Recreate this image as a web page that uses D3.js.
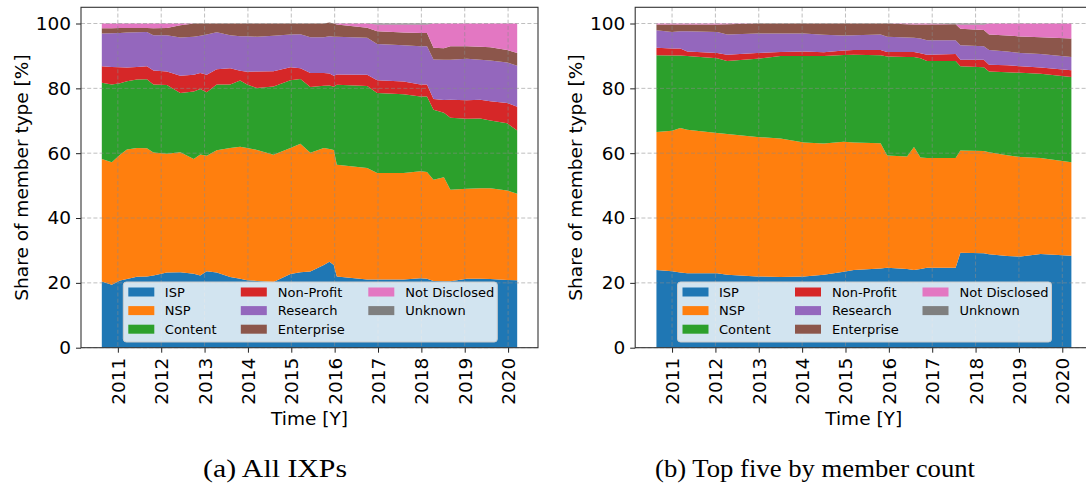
<!DOCTYPE html>
<html><head><meta charset="utf-8">
<script src="https://cdn.jsdelivr.net/npm/d3@7"></script>
<style>
body{margin:0;background:#fff}
svg{display:block}
text{font-family:"DejaVu Sans",sans-serif;fill:#000}
</style>
</head><body>
<svg id="c" width="1086" height="486"></svg>
<script>
// ---------- shared ----------
const seriesNames  = ["ISP","NSP","Content","Non-Profit","Research","Enterprise","Not Disclosed","Unknown"];
const seriesColors = ["#1f77b4","#ff7f0e","#2ca02c","#d62728","#9467bd","#8c564b","#e377c2","#7f7f7f"];
const yearTicks = [2011,2012,2013,2014,2015,2016,2017,2018,2019,2020];
const shareTicks = [0,20,40,60,80,100];
const xLabel = "Time [Y]";
const yLabel = "Share of member type [%]";
const captions = ["(a) All IXPs","(b) Top five by member count"];

// ---------- (a) All IXPs ----------
const aTime = [2010.63,2010.86,2011.05,2011.21,2011.44,2011.67,2011.82,2012.13,2012.44,2012.75,2012.90,2013.05,2013.28,2013.59,2013.82,2013.98,2014.21,2014.59,2014.98,2015.21,2015.44,2015.75,2015.88,2015.98,2016.05,2016.75,2016.98,2017.59,2017.98,2018.13,2018.28,2018.52,2018.67,2019.05,2019.36,2019.59,2019.98,2020.21];
const aISP = [20.4,19.4,20.7,21.2,21.9,22.0,22.3,23.2,23.3,22.8,22.3,23.6,23.2,21.8,21.3,20.8,20.6,20.3,22.7,23.3,23.5,25.5,26.5,25.5,22.0,21.0,21.0,21.0,21.4,21.3,20.6,20.5,20.5,21.3,21.3,21.2,20.9,20.8];
const aNSP = [37.8,37.8,38.8,39.9,39.7,39.5,37.9,36.6,37.0,35.4,37.3,35.6,37.7,39.8,40.7,40.8,40.4,39.2,38.9,39.6,36.6,36.1,34.8,35.5,34.4,34.4,32.9,32.9,33.0,32.9,31.2,32.1,28.2,27.7,27.9,28.0,27.6,26.7];
const aContent = [23.5,24.0,22.1,21.1,21.1,21.3,21.0,21.2,18.3,20.8,20.2,19.6,20.3,19.6,20.4,19.6,19.1,21.1,20.9,20.0,20.3,19.2,19.6,19.5,24.7,25.3,24.7,24.3,23.1,23.3,21.6,19.9,22.2,21.6,21.5,20.9,20.7,19.5];
const aNonProfit = [5.1,5.4,4.9,4.2,3.9,4.0,4.3,4.2,5.3,5.2,4.9,5.4,4.7,5.0,3.0,3.9,5.1,4.7,4.0,3.3,4.3,3.9,3.7,3.4,3.2,3.5,3.9,3.9,3.7,3.7,3.3,3.9,5.6,5.7,5.8,5.9,6.3,7.3];
const aResearch = [10.1,10.4,10.6,10.8,10.7,10.6,10.9,11.2,11.8,11.7,11.5,12.4,11.4,10.2,10.7,11.0,10.7,10.9,10.1,10.5,11.1,11.1,11.5,12.0,11.6,11.4,11.2,11.2,11.8,11.8,12.2,12.4,12.3,12.8,12.3,12.6,12.5,12.7];
const aEnterprise = [1.6,1.5,1.5,1.4,1.3,1.2,2.1,2.2,3.8,4.1,3.8,3.4,2.7,3.6,3.9,3.9,4.1,3.8,3.4,3.3,4.2,4.2,4.2,4.1,3.8,3.1,3.9,3.9,4.1,4.1,3.6,3.6,4.2,3.9,4.0,4.1,3.8,3.9];
const aNotDisclosed = [1.5,1.5,1.4,1.4,1.4,1.4,1.5,1.4,0.5,0,0,0,0,0,0,0,0,0,0,0,0,0,0,0,0.3,1.3,2.1,2.5,2.6,2.6,7.5,7.6,7.0,7.0,7.2,7.3,8.2,9.1];
const aUnknown = [0,0,0,0,0,0,0,0,0,0,0,0,0,0,0,0,0,0,0,0,0,0,0,0,0,0,0.3,0.3,0.3,0.3,0,0,0,0,0,0,0,0];

// ---------- (b) Top five by member count ----------
const bTime = [2010.64,2011.00,2011.19,2011.35,2012.04,2012.27,2012.96,2013.50,2014.04,2014.50,2014.96,2015.19,2015.81,2015.96,2016.42,2016.58,2016.73,2016.88,2017.54,2017.65,2018.19,2018.31,2018.73,2019.04,2019.50,2020.21];
const bISP = [24.0,23.6,23.2,23.0,23.0,22.5,22.0,21.8,22.0,22.5,23.4,24.0,24.4,24.7,24.3,24.0,24.3,24.7,24.7,29.3,29.1,28.8,28.3,28.1,28.9,28.4];
const bNSP = [42.5,43.3,44.6,44.2,43.2,43.4,43.0,42.7,41.3,40.5,40.1,39.3,38.7,34.6,34.7,37.9,34.4,33.8,33.8,31.5,31.6,31.5,31.1,30.7,29.6,28.8];
const bContent = [23.7,23.2,22.3,22.8,23.1,22.5,24.1,25.5,26.7,27.0,26.8,27.1,27.1,30.5,30.7,27.8,30.6,29.9,29.9,26.0,25.8,24.9,25.6,26.0,26.0,26.3];
const bNonProfit = [2.3,2.2,2.2,1.4,1.6,2.0,1.8,1.2,1.4,1.1,1.4,1.4,1.6,1.4,1.5,1.5,1.5,2.0,2.2,2.0,2.3,2.1,2.1,2.0,1.9,2.1];
const bResearch = [5.4,5.1,5.3,6.2,6.5,6.2,6.0,5.7,5.5,5.4,4.6,4.6,4.8,4.7,4.5,4.4,4.6,4.4,4.2,4.5,4.2,4.5,4.3,4.1,4.2,4.1];
const bEnterprise = [1.8,2.3,2.1,2.1,2.3,3.2,3.1,3.1,3.1,3.5,3.7,3.6,3.4,4.1,4.1,4.1,4.3,4.9,5.0,5.1,5.0,4.8,4.9,5.1,5.2,5.7];
const bNotDisclosed = [0.3,0.3,0.3,0.3,0.3,0.2,0,0,0,0,0,0,0,0,0.2,0.3,0.3,0.3,0,1.3,1.7,3.4,3.7,4.0,4.2,4.6];
const bUnknown = [0,0,0,0,0,0,0,0,0,0,0,0,0,0,0,0,0,0,0.2,0.3,0.3,0,0,0,0,0];

const panels = [
  {time:aTime, series:[aISP,aNSP,aContent,aNonProfit,aResearch,aEnterprise,aNotDisclosed,aUnknown], caption:captions[0], left:81, capX:275, capW:144},
  {time:bTime, series:[bISP,bNSP,bContent,bNonProfit,bResearch,bEnterprise,bNotDisclosed,bUnknown], caption:captions[1], left:635.2, capX:815, capW:320}
];

const svg = d3.select("#c");
const W = 457, yBottom = 347.7, yTopPx = 7.3;
const labelFont = 18.5;

panels.forEach((p, pi) => {
  const g = svg.append("g");
  const rows = p.time.map((t, i) => {
    const r = {t};
    seriesNames.forEach((n, k) => r[n] = p.series[k][i]);
    return r;
  });
  const x = d3.scaleLinear().domain([2010.15, 2020.69]).range([p.left, p.left + W]);
  const y = d3.scaleLinear().domain([0, 105]).range([yBottom, yTopPx]);
  const stack = d3.stack().keys(seriesNames)(rows);
  const area = d3.area().x(d => x(d.data.t)).y0(d => y(d[0])).y1(d => y(d[1]));

  g.append("g").selectAll("path").data(stack).join("path")
    .attr("d", area).attr("fill", (d, i) => seriesColors[i]);

  // grid
  const grid = g.append("g").attr("stroke", "#8a8a8a").attr("stroke-opacity", 0.55)
    .attr("stroke-width", 1).attr("stroke-dasharray", "4,2.2");
  grid.selectAll("line.v").data(yearTicks).join("line")
    .attr("x1", d => x(d)).attr("x2", d => x(d)).attr("y1", yTopPx).attr("y2", yBottom);
  grid.selectAll("line.h").data(shareTicks).join("line")
    .attr("x1", p.left).attr("x2", p.left + W).attr("y1", d => y(d)).attr("y2", d => y(d));

  // axes
  const ax = g.append("g").attr("transform", `translate(0,${yBottom})`)
    .call(d3.axisBottom(x).tickValues(yearTicks).tickFormat(d3.format("d")).tickSize(5).tickPadding(5));
  ax.select(".domain").remove();
  ax.selectAll("text").attr("font-size", labelFont).attr("font-family", "DejaVu Sans")
    .attr("transform", "rotate(-90)").attr("text-anchor", "end")
    .attr("x", -10).attr("y", 0).attr("dy", "0.35em");
  const ay = g.append("g").attr("transform", `translate(${p.left},0)`)
    .call(d3.axisLeft(y).tickValues(shareTicks).tickSize(5).tickPadding(5));
  ay.select(".domain").remove();
  ay.selectAll("text").attr("font-size", labelFont).attr("font-family", "DejaVu Sans");
  g.selectAll(".tick line").attr("stroke", "#222").attr("stroke-width", 1);

  // frame
  g.append("rect").attr("x", p.left).attr("y", yTopPx).attr("width", W).attr("height", yBottom - yTopPx)
    .attr("fill", "none").attr("stroke", "#333").attr("stroke-width", 1.1);

  // labels
  g.append("text").attr("x", p.left + W / 2).attr("y", 425).attr("text-anchor", "middle")
    .attr("font-size", labelFont).text(xLabel);
  g.append("text").attr("transform", `translate(${p.left - 53},${(yBottom + yTopPx) / 2}) rotate(-90)`)
    .attr("text-anchor", "middle").attr("font-size", labelFont).text(yLabel);

  // legend
  const lg = g.append("g").attr("transform", `translate(${p.left + 42.3},282)`);
  lg.append("rect").attr("width", 374).attr("height", 60).attr("rx", 3)
    .attr("fill", "#fff").attr("fill-opacity", 0.8).attr("stroke", "#cccccc").attr("stroke-width", 1);
  const colH = [5, 117.5, 245], colT = [41.5, 154.5, 282], rowY = [10, 28.6, 47.2];
  seriesNames.forEach((n, k) => {
    const c = Math.floor(k / 3), r = k % 3;
    lg.append("rect").attr("x", colH[c]).attr("y", rowY[r] - 4.5).attr("width", 26).attr("height", 9)
      .attr("fill", seriesColors[k]);
    lg.append("text").attr("x", colT[c]).attr("y", rowY[r]).attr("dy", "0.36em")
      .attr("font-size", 13).text(n);
  });

  // caption
  svg.append("text").attr("x", p.capX).attr("y", 477).attr("text-anchor", "middle")
    .attr("font-family", "Liberation Serif, serif").style("font-family", "'Liberation Serif', serif")
    .attr("font-size", 25).attr("textLength", p.capW).attr("lengthAdjust", "spacingAndGlyphs")
    .text(p.caption);
});
</script>
</body></html>
